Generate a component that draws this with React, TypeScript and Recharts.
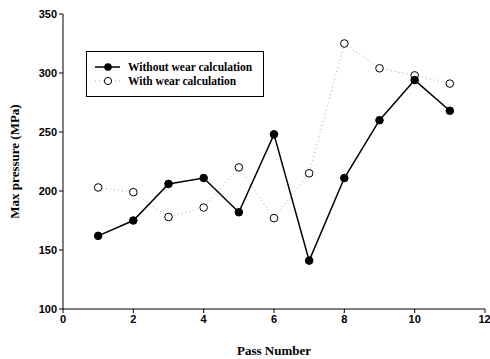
import React from "react";
import {
  LineChart,
  Line,
  XAxis,
  YAxis,
  Label,
} from "recharts";

const passNumbers = [1, 2, 3, 4, 5, 6, 7, 8, 9, 10, 11];
const withoutWear = [162, 175, 206, 211, 182, 248, 141, 211, 260, 294, 268];
const withWear = [203, 199, 178, 186, 220, 177, 215, 325, 304, 298, 291];
const xTicks = [0, 2, 4, 6, 8, 10, 12];
const yTicks = [100, 150, 200, 250, 300, 350];

const data = passNumbers.map((p, i) => ({
  pass: p,
  without: withoutWear[i],
  with: withWear[i],
}));

const serif = "'Liberation Serif', 'Times New Roman', serif";
const sans = "'Liberation Sans', Arial, sans-serif";

// legend drawn as an overlay box inside the plot, like the original
function LegendBox() {
  return (
    <div
      style={{
        position: "absolute",
        left: 86,
        top: 51,
        width: 176,
        height: 44,
        border: "1px solid #000",
        background: "#fff",
      }}
    >
      <svg width={176} height={44} style={{ position: "absolute", left: 0, top: 0 }}>
        <line x1={8} y1={15} x2={33} y2={15} stroke="#000" strokeWidth={1.5} />
        <circle cx={21} cy={15} r={3.8} fill="#000" />
        <line x1={8} y1={29} x2={33} y2={29} stroke="#aaa" strokeWidth={1} strokeDasharray="1 3" />
        <circle cx={21} cy={29} r={3.6} fill="#fff" stroke="#000" strokeWidth={1} />
        <text x={41} y={19} fontFamily={serif} fontWeight="bold" fontSize={11.5}>
          Without wear calculation
        </text>
        <text x={41} y={33} fontFamily={serif} fontWeight="bold" fontSize={11.5}>
          With wear calculation
        </text>
      </svg>
    </div>
  );
}

export default function App() {
  return (
    <div style={{ position: "absolute", left: 0, top: 0, width: 490, height: 359, background: "#fff" }}>
      <LineChart
        width={490}
        height={359}
        data={data}
        margin={{ top: 14, right: 5, bottom: 0, left: 0 }}
      >
        <XAxis
          dataKey="pass"
          type="number"
          domain={[0, 12]}
          ticks={xTicks}
          height={50}
          stroke="#000"
          tickSize={4}
          tick={{ fill: "#000", fontFamily: sans, fontWeight: "bold", fontSize: 11 }}
        >
          <Label
            value="Pass Number"
            position="insideBottom"
            offset={4}
            style={{ fill: "#000", fontFamily: serif, fontWeight: "bold", fontSize: 13 }}
          />
        </XAxis>
        <XAxis
          xAxisId="top"
          orientation="top"
          type="number"
          domain={[0, 12]}
          height={0}
          tick={false}
          tickLine={false}
          stroke="#000"
        />
        <YAxis
          type="number"
          domain={[100, 350]}
          ticks={yTicks}
          width={63}
          stroke="#000"
          tickSize={4}
          tick={{ fill: "#000", fontFamily: sans, fontWeight: "bold", fontSize: 11 }}
        >
          <Label
            value="Max pressure (MPa)"
            angle={-90}
            position="insideLeft"
            offset={14}
            style={{ fill: "#000", fontFamily: serif, fontWeight: "bold", fontSize: 13, textAnchor: "middle" }}
          />
        </YAxis>
        <YAxis
          yAxisId="right"
          orientation="right"
          domain={[100, 350]}
          width={0}
          tick={false}
          tickLine={false}
          stroke="#000"
        />
        <Line
          dataKey="with"
          stroke="#aaa"
          strokeWidth={1}
          strokeDasharray="1 3"
          dot={{ r: 3.8, fill: "#fff", stroke: "#000", strokeWidth: 1, strokeDasharray: "" }}
          isAnimationActive={false}
        />
        <Line
          dataKey="without"
          stroke="#000"
          strokeWidth={1.5}
          dot={{ r: 3.8, fill: "#000", stroke: "#000", strokeWidth: 1 }}
          isAnimationActive={false}
        />
      </LineChart>
      <LegendBox />
    </div>
  );
}
